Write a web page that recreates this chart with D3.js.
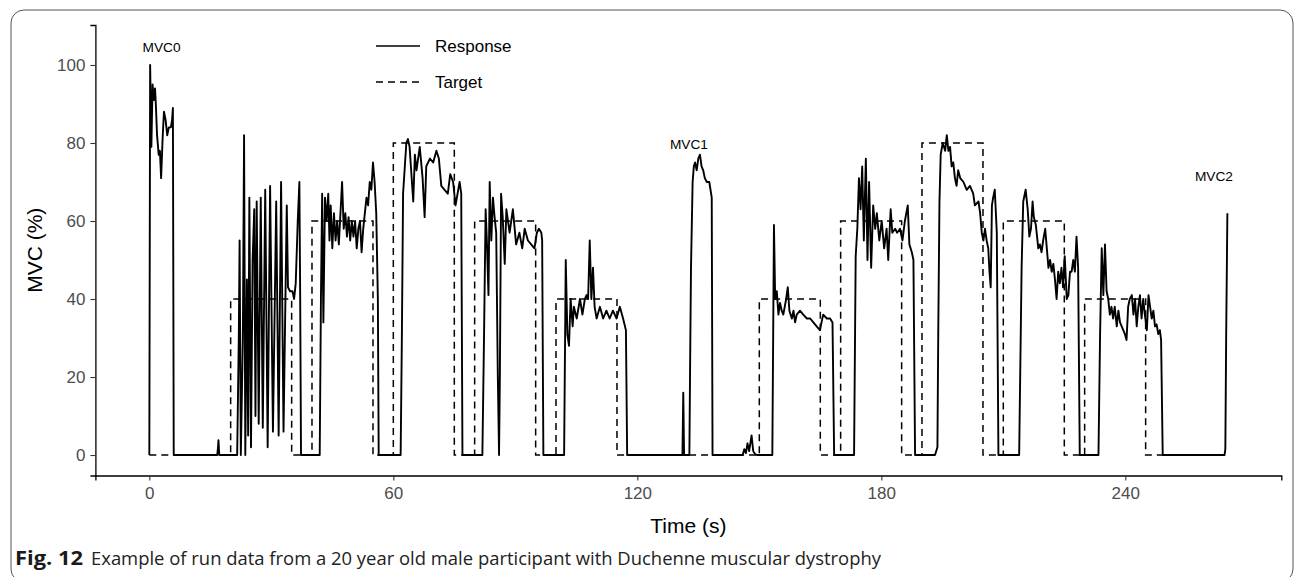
<!DOCTYPE html>
<html>
<head>
<meta charset="utf-8">
<script src="https://cdn.jsdelivr.net/npm/d3@7"></script>
<style>
  body { margin: 0; background: #fff; }
  svg { display: block; }
</style>
</head>
<body>
<div id="chart"></div>
<script>
// target blocks (s, %MVC)
const targetStart = [20, 40, 60, 80, 100, 150, 170, 190, 210, 230];
const targetEnd   = [35, 55, 75, 95, 115, 165, 185, 205, 225, 245];
const targetLevel = [40, 60, 80, 60, 40, 40, 60, 80, 60, 40];
const runEnd = 265.1;

// response trace: [time, value]
const mvc0 = [[0,0],[0.2,100],[0.5,79],[0.8,95],[1.1,91],[1.4,94],[1.6,90],[1.9,82],[2.3,77],[2.6,78],
  [2.9,71],[3.3,82],[3.6,88],[4.0,86],[4.4,82],[4.8,84],[5.3,84],[5.6,86],[5.8,89],[6.0,0]];
const blip0 = [[16.7,0],[16.9,2],[17.0,3.8],[17.2,0]];
const block1 = [[21.6,0],[22.0,30],[22.2,55],[22.5,0],[23.0,30],[23.3,82],[23.6,0],[24.0,45],[24.3,5],
  [24.6,66],[25.0,2],[25.4,50],[25.8,63],[26.1,10],[26.4,65],[26.9,8],[27.4,66],[27.9,7],[28.5,68],
  [29.1,2],[29.7,69],[30.4,6],[31.2,65],[31.8,5],[32.4,70],[33.0,6],[33.8,64],[34.1,43],[34.6,42],
  [35.2,42],[35.6,40],[36.0,44],[36.5,60],[36.9,70],[37.1,40],[37.3,0]];
const block2 = [[41.9,0],[42.2,40],[42.5,67],[42.8,34],[43.2,66],[43.6,60],[44.0,67],[44.3,55],[44.6,64],
  [45.0,53],[45.4,62],[45.8,55],[46.2,60],[46.6,54],[47.0,62],[47.4,70],[47.8,58],[48.2,62],[48.6,56],
  [49.0,61],[49.4,55],[49.8,60],[50.2,56],[50.6,60],[51.0,53],[51.4,58],[51.8,60],[52.2,52],[52.6,58],
  [53.0,62],[53.4,66],[53.8,64],[54.2,70],[54.6,68],[55.0,75],[55.4,70],[55.8,62],[56.2,40],[56.4,0]];
const block3 = [[61.8,0],[62.1,30],[62.4,67],[63.2,80],[63.6,81],[64.0,79],[64.9,65],[65.3,77],[65.7,73],
  [66.5,79],[67.2,71],[67.7,61],[68.1,74],[69.0,76],[69.8,75],[70.6,78],[71.2,76],[71.8,69],[72.6,68],
  [73.4,67],[74.0,72],[74.7,70],[75.3,64],[76.3,70],[76.7,67],[77.0,0]];
const block4 = [[81.9,0],[82.3,30],[82.7,63],[83.0,55],[83.4,41],[83.7,70],[84.1,55],[84.5,66],[84.9,61],
  [85.3,57],[85.7,20],[86.0,0],[86.2,20],[86.5,67],[86.9,61],[87.4,49],[87.8,63],[88.6,57],[89.4,63],
  [90.2,54],[91.0,57],[91.7,53],[92.3,58],[93.1,55],[93.9,54],[94.7,53],[95.3,57],[95.8,58],[96.4,57],
  [96.6,55],[96.9,0]];
const block5 = [[102.0,0],[102.4,50],[102.8,31],[103.2,28],[103.6,40],[104.1,33],[104.4,38],[105.1,35],
  [105.9,40],[106.5,36],[107.1,40],[107.5,41],[107.9,40],[108.3,55],[108.7,40],[109.1,48],[109.5,38],
  [110.0,35],[110.8,38],[111.6,35],[112.4,37],[113.2,35],[114.0,37],[114.9,35],[115.7,38],[116.5,35],
  [117.2,32],[117.5,0]];
const mvc1 = [[131.1,0],[131.3,16],[131.5,0],[132.8,0],[133.0,25],[133.2,48],[133.6,70],[133.9,74],
  [134.2,75],[134.6,73],[135.0,76],[135.4,77],[135.8,74],[136.2,73],[136.6,71],[137.1,70],[137.7,70],
  [138.3,66],[138.5,0]];
const blip1 = [[145.9,0],[146.3,1.5],[146.7,0.5],[147.1,3],[147.5,1],[148.1,5],[148.5,1],[148.9,0.3],[149.4,0]];
const block6 = [[153.2,0],[153.6,59],[153.9,40],[154.3,42],[154.7,36],[155.1,39],[155.5,37],[155.9,36],
  [156.6,40],[157.0,43],[157.4,37],[158.0,35],[158.4,37],[158.8,34],[159.2,36],[160.0,37],[160.8,36],
  [161.7,35],[162.5,35],[163.3,34],[164.1,33],[164.9,32],[165.7,36],[166.6,35],[167.4,35],[168.0,34],
  [168.4,0]];
const block7 = [[173.3,0],[173.7,51],[174.1,58],[174.5,71],[174.9,63],[175.3,74],[175.7,55],[176.2,76],
  [176.6,50],[177.0,70],[177.5,48],[178.0,64],[178.5,58],[178.9,62],[179.5,55],[180.1,60],[180.7,53],
  [181.3,58],[181.7,50],[182.3,63],[182.7,57],[183.4,58],[183.9,57],[184.6,58],[185.2,55],[185.8,60],
  [186.5,64],[186.9,54],[187.5,52],[187.9,50],[188.3,0]];
const block8 = [[193.2,0],[193.8,2],[194.0,31],[194.3,65],[194.6,77],[195.1,80],[195.7,78],[196.1,82],
  [196.5,78],[196.9,79],[197.3,74],[197.7,75],[198.1,71],[198.5,69],[198.9,73],[199.4,71],[200.2,70],
  [201.0,68],[201.8,69],[202.6,67],[203.0,64],[203.9,65],[204.3,62],[204.7,57],[205.1,55],[205.5,58],
  [205.9,55],[206.3,53],[206.6,47],[206.9,43],[207.2,64],[207.5,66],[207.9,68],[208.4,57],[208.8,0]];
const block9 = [[213.9,0],[214.5,48],[214.9,65],[215.5,68],[216.0,63],[216.4,56],[216.8,58],[217.2,65],
  [217.5,61],[218.0,59],[218.6,53],[219.0,54],[219.4,52],[219.8,55],[220.3,58],[220.7,53],[221.1,48],
  [221.5,50],[221.9,47],[222.3,49],[222.7,45],[223.1,40],[223.5,47],[223.9,44],[224.3,48],[224.7,43],
  [225.1,51],[225.6,40],[226.0,41],[226.4,47],[226.8,47],[227.2,50],[227.6,47],[228.0,56],[228.4,48],
  [228.8,0]];
const block10 = [[233.4,0],[233.8,31],[234.2,53],[234.6,41],[235.0,54],[235.4,42],[235.8,40],[236.2,36],
  [236.6,38],[237.0,35],[237.4,38],[237.9,33],[238.3,37],[238.7,34],[239.5,32],[239.9,31],[240.3,29.5],
  [240.7,38],[241.1,40],[241.6,41],[242.0,36],[242.4,40],[242.8,33],[243.2,38],[243.6,41],[244.0,35],
  [244.4,40],[244.8,36],[245.3,32],[245.7,41],[246.1,38],[246.5,35],[246.9,37],[247.3,33],[247.7,33.5],
  [248.1,31],[248.5,32],[248.8,29.5],[249.2,0]];
const mvc2 = [[264.4,0],[264.6,1.5],[264.8,30],[265.1,62]];

const mvcLabels = ["MVC0", "MVC1", "MVC2"];
const mvcLabelX = [3, 132.7, 261.8];
const mvcLabelY = [104.6, 79.5, 71.5];

const xTicks = [0, 60, 120, 180, 240];
const yTicks = [0, 20, 40, 60, 80, 100];

const W = 1296, H = 577;
const svg = d3.select("#chart").append("svg")
  .attr("width", W).attr("height", H);

// figure frame
svg.append("rect")
  .attr("x", 11).attr("y", 10)
  .attr("width", 1282).attr("height", 572)
  .attr("rx", 13).attr("ry", 13)
  .attr("fill", "none").attr("stroke", "#555").attr("stroke-width", 1);

const x = d3.scaleLinear().domain([-13.26, 278.36]).range([95.4, 1281.3]);
const y = d3.scaleLinear().domain([-5.25, 110.25]).range([475.5, 25]);

const font = "'Liberation Sans', Arial, sans-serif";

// target step line
let targetPts = [[0, 0]];
targetStart.forEach((s, i) => {
  targetPts.push([s, 0], [s, targetLevel[i]], [targetEnd[i], targetLevel[i]], [targetEnd[i], 0]);
});
targetPts.push([runEnd, 0]);

const response = [].concat(mvc0, blip0, block1, block2, block3, block4, block5,
  mvc1, blip1, block6, block7, block8, block9, block10, mvc2);

const line = d3.line().x(d => x(d[0])).y(d => y(d[1]));

svg.append("path")
  .datum(targetPts)
  .attr("d", line)
  .attr("fill", "none")
  .attr("stroke", "#000")
  .attr("stroke-width", 1.5)
  .attr("stroke-dasharray", "7,5");

svg.append("path")
  .datum(response)
  .attr("d", line)
  .attr("fill", "none")
  .attr("stroke", "#000")
  .attr("stroke-width", 1.9)
  .attr("stroke-linejoin", "round");

// axes
const xAxis = svg.append("g")
  .attr("transform", "translate(0," + y.range()[0] + ")")
  .call(d3.axisBottom(x).tickValues(xTicks).tickSize(5).tickPadding(6));
const yAxis = svg.append("g")
  .attr("transform", "translate(" + x.range()[0] + ",0)")
  .call(d3.axisLeft(y).tickValues(yTicks).tickSize(5).tickPadding(5));

[xAxis, yAxis].forEach(g => {
  g.select(".domain").attr("stroke", "#000").attr("stroke-width", 1.3);
  g.selectAll(".tick line").attr("stroke", "#333").attr("stroke-width", 1.1);
  g.selectAll(".tick text")
    .attr("fill", "#4d4d4d")
    .style("font-family", font)
    .style("font-size", "17px");
});

// axis titles
svg.append("text")
  .attr("x", (x.range()[0] + x.range()[1]) / 2).attr("y", 533)
  .attr("text-anchor", "middle")
  .style("font-family", font).style("font-size", "21px")
  .text("Time (s)");

svg.append("text")
  .attr("transform", "translate(42," + (y.range()[0] + y.range()[1]) / 2 + ") rotate(-90)")
  .attr("text-anchor", "middle")
  .style("font-family", font).style("font-size", "21px")
  .text("MVC (%)");

// MVC annotations
mvcLabels.forEach((lab, i) => {
  svg.append("text")
    .attr("x", x(mvcLabelX[i])).attr("y", y(mvcLabelY[i]))
    .attr("text-anchor", "middle")
    .attr("dominant-baseline", "central")
    .style("font-family", font).style("font-size", "13.7px")
    .text(lab);
});

// legend
const legend = svg.append("g");
[["Response", null, 46], ["Target", "7,5", 82]].forEach(([lab, dash, ly]) => {
  legend.append("line")
    .attr("x1", 376).attr("x2", 420).attr("y1", ly).attr("y2", ly)
    .attr("stroke", "#000").attr("stroke-width", 1.6)
    .attr("stroke-dasharray", dash);
  legend.append("text")
    .attr("x", 435).attr("y", ly)
    .attr("dominant-baseline", "central")
    .style("font-family", font).style("font-size", "17px")
    .text(lab);
});

// caption
const capFont = "'Open Sans', 'Noto Sans', sans-serif";
svg.append("text")
  .attr("x", 15).attr("y", 565)
  .attr("textLength", 68).attr("lengthAdjust", "spacingAndGlyphs")
  .style("font-family", capFont).style("font-size", "19px").style("font-weight", "bold")
  .attr("fill", "#1a1a1a")
  .text("Fig. 12");
svg.append("text")
  .attr("x", 91).attr("y", 565)
  .attr("textLength", 790).attr("lengthAdjust", "spacingAndGlyphs")
  .style("font-family", capFont).style("font-size", "19px")
  .attr("fill", "#222")
  .text("Example of run data from a 20 year old male participant with Duchenne muscular dystrophy");
</script>
</body>
</html>
